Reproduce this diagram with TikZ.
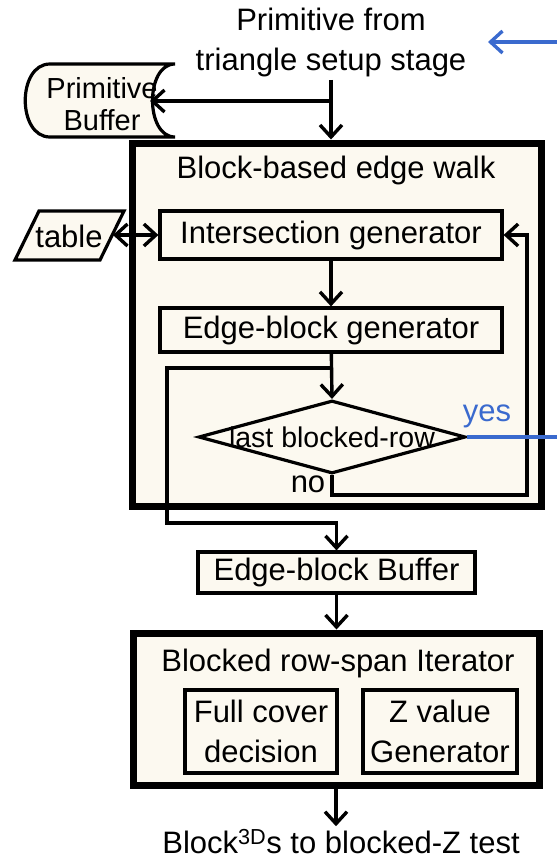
\documentclass[tikz,border=0pt]{standalone}
\usepackage{fontspec}
\setmainfont{Liberation Sans}
\usetikzlibrary{arrows.meta,shapes.geometric}

\definecolor{cream}{RGB}{252,249,240}
\definecolor{yesblue}{RGB}{58,106,206}

\tikzset{
    tip/.tip={Straight Barb[length=12pt,width=22pt]},
    flow/.style={line width=3.4pt,-tip},
    unitbox/.style={draw,line width=3.2pt,fill=cream,inner sep=0pt},
    stagebox/.style={draw,line width=7pt,fill=cream,inner sep=0pt},
}

\begin{document}
\begin{tikzpicture}[x=1pt,y=-1pt,font=\fontsize{31}{40}\selectfont]
    \useasboundingbox (0,0) rectangle (557,863);

    % input from setup stage
    \node[align=center] (src) at (331,42) {Primitive from\\triangle setup stage};
    \coordinate (bluetip) at (488,42);
    \coordinate (blueend) at (557,42);
    \draw[yesblue,line width=3.4pt,tip-] (bluetip)--(blueend);

    % primitive buffer (stored data)
    \draw[line width=3.2pt,fill=cream] (175,64)--(50,64)
        .. controls (17,64) and (17,137) .. (50,137)--(175,137)
        .. controls (145,137) and (145,64) .. (175,64);
    \node[align=center,font=\fontsize{29}{32}\selectfont] (pbuf) at (102,104) {Primitive\\Buffer};
    \coordinate (pbufin) at (150,101);

    % table (parallelogram)
    \draw[line width=3.2pt,fill=cream] (15,260)--(39,211)--(124,211)--(100,260)--cycle;
    \node (table) at (69,236) {table};
    \coordinate (tableout) at (113,235);

    % edge walk stage
    \node[stagebox,minimum width=409,minimum height=363] (walk) at (336.5,324.5) {};
    \node (walktitle) at (336,170) {Block-based edge walk};
    \node[unitbox,minimum width=342,minimum height=48] (isect) at (331,235) {Intersection generator};
    \node[unitbox,minimum width=342,minimum height=44] (egen) at (331,330) {Edge-block generator};
    \node[diamond,draw,line width=3.2pt,fill=cream,inner sep=0pt,minimum width=267,minimum height=73,
        label={[font=\fontsize{28.5}{32}\selectfont]center:last blocked-row}] (lastrow) at (332,437) {};

    \node (no) at (308,484) {no};
    \node[yesblue] (yes) at (487,416) {yes};
    \coordinate (yesend) at (557,437);
    \coordinate (fb) at (527,495);
    \coordinate (tap) at (332,368);
    \coordinate (bend) at (167,523);

    % buffers and iterator
    \node[unitbox,minimum width=277,minimum height=41] (ebuf) at (336.5,572.5) {Edge-block Buffer};
    \node[stagebox,minimum width=406,minimum height=152] (iter) at (336,709) {};
    \node (itertitle) at (338,663) {Blocked row-span Iterator};
    \node[unitbox,minimum width=152,minimum height=83,align=center] (cover) at (261,731.5) {Full cover\\decision};
    \node[unitbox,minimum width=154,minimum height=83,align=center] (zval) at (440,731.5) {Z value\\Generator};
    \node (out) at (341,842) {Block\textsuperscript{3D}s to blocked-Z test};

    % connections
    \draw[flow] (src.south)--(src.south|-walk.north);
    \draw[flow] (src.south|-pbufin)--(pbufin);
    \draw[line width=3.4pt,tip-tip] (tableout)--(isect.west);
    \draw[flow] (isect)--(egen);
    \draw[flow] (egen)--(lastrow.north);
    \draw[flow] (lastrow.south)|-(fb)|-(isect.east);
    \draw[yesblue,line width=3.4pt] (lastrow.east)--(yesend);
    \draw[flow] (tap)-|(bend)-|(ebuf.north);
    \draw[flow] (ebuf)--(ebuf|-iter.north);
    \draw[flow] (iter.south)--(iter.south|-out.north);
\end{tikzpicture}
\end{document}
